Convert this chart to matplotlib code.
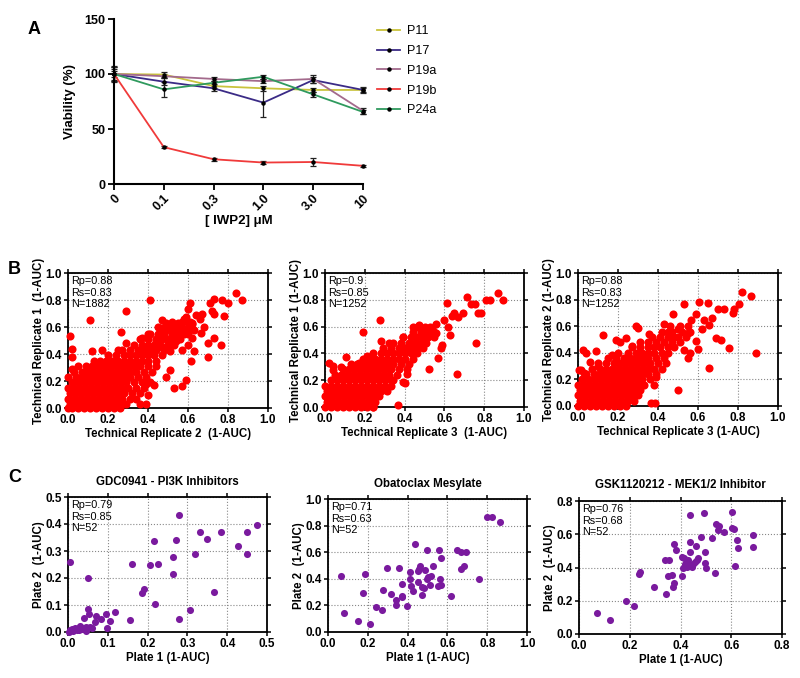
import matplotlib.pyplot as plt
import numpy as np

plt.rcParams['font.family'] = ['Liberation Sans', 'DejaVu Sans']

# ---- panel A: viability vs IWP2 dose ----
doses = ['0', '0.1', '0.3', '1.0', '3.0', '10']
lines_a = ['P11', 'P17', 'P19a', 'P19b', 'P24a']
p11 = [100, 99.5, 89, 87, 85.5, 85.5]
p17 = [100, 93, 87, 74, 94.5, 85.5]
p19a = [100, 98, 95.5, 93.5, 95.5, 66.5]
p19b = [100, 33.5, 22.5, 19.5, 20, 16.5]
p24a = [100, 86, 92, 97.5, 81.5, 65.5]
err_p11 = [6, 2, 2, 2, 2, 2]
err_p17 = [6, 3, 2, 13, 3, 3]
err_p19a = [7, 2, 2, 2, 4, 3]
err_p19b = [3, 1, 1.5, 1, 3.5, 1]
err_p24a = [5, 7, 2, 2, 2, 2]
colors_a = ['#c9c33c', '#3b2b86', '#a36a8c', '#f03a3a', '#2f9a5e']

# ---- panel B: technical replicates (dense core as rows y: xs, plus scattered points) ----
b1_rows = [
    (0.00, [0.00, 0.02, 0.05, 0.08, 0.11, 0.14, 0.17, 0.20, 0.23, 0.26]),
    (0.03, [0.01, 0.04, 0.07, 0.10, 0.13, 0.16, 0.19, 0.22, 0.25, 0.29, 0.36, 0.39]),
    (0.07, [0.00, 0.03, 0.06, 0.09, 0.12, 0.15, 0.18, 0.21, 0.24, 0.27, 0.31, 0.34]),
    (0.11, [0.01, 0.04, 0.07, 0.10, 0.13, 0.16, 0.19, 0.22, 0.25, 0.28, 0.32, 0.36]),
    (0.15, [0.00, 0.03, 0.06, 0.09, 0.12, 0.15, 0.18, 0.21, 0.24, 0.27, 0.30, 0.34, 0.38]),
    (0.19, [0.02, 0.05, 0.08, 0.11, 0.14, 0.17, 0.20, 0.23, 0.26, 0.29, 0.33, 0.37, 0.41]),
    (0.23, [0.00, 0.04, 0.07, 0.10, 0.13, 0.16, 0.19, 0.22, 0.25, 0.28, 0.31, 0.35, 0.39]),
    (0.27, [0.03, 0.07, 0.10, 0.13, 0.16, 0.19, 0.22, 0.25, 0.28, 0.31, 0.34, 0.38, 0.42]),
    (0.31, [0.05, 0.09, 0.12, 0.15, 0.18, 0.21, 0.24, 0.27, 0.30, 0.33, 0.36, 0.40, 0.44]),
    (0.35, [0.13, 0.16, 0.19, 0.22, 0.25, 0.28, 0.31, 0.34, 0.37, 0.40, 0.44]),
    (0.39, [0.20, 0.24, 0.28, 0.31, 0.34, 0.37, 0.40, 0.43, 0.47]),
    (0.43, [0.27, 0.31, 0.35, 0.38, 0.41, 0.44, 0.48]),
    (0.47, [0.33, 0.37, 0.40, 0.43, 0.46, 0.50, 0.53]),
    (0.51, [0.36, 0.40, 0.44, 0.47, 0.50, 0.53, 0.56]),
    (0.55, [0.41, 0.45, 0.48, 0.52, 0.55, 0.58]),
    (0.59, [0.47, 0.50, 0.54, 0.57, 0.60]),
    (0.63, [0.49, 0.55, 0.60, 0.62]),
]
b1_pts = [(0.84, 0.85), (0.87, 0.80), (0.77, 0.80), (0.80, 0.775), (0.73, 0.805), (0.71, 0.775),
          (0.61, 0.775), (0.41, 0.80), (0.29, 0.715), (0.11, 0.655), (0.01, 0.535), (0.72, 0.715),
          (0.73, 0.70), (0.78, 0.685), (0.67, 0.70), (0.64, 0.69), (0.59, 0.675), (0.60, 0.73),
          (0.57, 0.64), (0.47, 0.655), (0.665, 0.555), (0.70, 0.485), (0.73, 0.515), (0.765, 0.465),
          (0.70, 0.38), (0.62, 0.515), (0.63, 0.42), (0.57, 0.43), (0.615, 0.345), (0.59, 0.21),
          (0.57, 0.16), (0.53, 0.145), (0.49, 0.23), (0.51, 0.28), (0.43, 0.17), (0.39, 0.18),
          (0.40, 0.095), (0.26, 0.02), (0.265, 0.56), (0.29, 0.48), (0.02, 0.435), (0.02, 0.375),
          (0.02, 0.29), (0.17, 0.43), (0.12, 0.42), (0.25, 0.43), (0.52, 0.61), (0.55, 0.58),
          (0.62, 0.62), (0.66, 0.66), (0.68, 0.60), (0.45, 0.60), (0.40, 0.55), (0.37, 0.52),
          (0.48, 0.56), (0.60, 0.55), (0.54, 0.50), (0.60, 0.47), (0.46, 0.52), (0.49, 0.58),
          (0.52, 0.64), (0.58, 0.66), (0.50, 0.48), (0.56, 0.54), (0.63, 0.58), (0.61, 0.64),
          (0.53, 0.57), (0.44, 0.50), (0.47, 0.45), (0.51, 0.42)]

b2_rows = [
    (0.00, [0.00, 0.03, 0.06, 0.09, 0.12, 0.15, 0.18, 0.21, 0.24]),
    (0.04, [0.01, 0.04, 0.07, 0.10, 0.13, 0.16, 0.19, 0.22, 0.25]),
    (0.08, [0.00, 0.03, 0.06, 0.09, 0.12, 0.15, 0.18, 0.21, 0.24, 0.27]),
    (0.12, [0.01, 0.04, 0.07, 0.10, 0.13, 0.16, 0.19, 0.22, 0.25, 0.28, 0.31]),
    (0.16, [0.00, 0.03, 0.06, 0.09, 0.12, 0.15, 0.18, 0.21, 0.24, 0.27, 0.30, 0.33]),
    (0.20, [0.03, 0.06, 0.09, 0.12, 0.15, 0.18, 0.21, 0.24, 0.27, 0.30, 0.34]),
    (0.24, [0.05, 0.08, 0.11, 0.14, 0.17, 0.20, 0.23, 0.26, 0.29, 0.32, 0.36]),
    (0.28, [0.09, 0.12, 0.15, 0.18, 0.21, 0.24, 0.27, 0.30, 0.33, 0.37, 0.41]),
    (0.32, [0.13, 0.16, 0.19, 0.22, 0.25, 0.28, 0.31, 0.34, 0.38, 0.42]),
    (0.36, [0.19, 0.22, 0.25, 0.28, 0.31, 0.34, 0.37, 0.40, 0.44]),
    (0.40, [0.24, 0.28, 0.31, 0.34, 0.37, 0.40, 0.43, 0.46]),
    (0.44, [0.29, 0.33, 0.37, 0.40, 0.43, 0.46, 0.49]),
    (0.48, [0.34, 0.38, 0.42, 0.45, 0.48, 0.51]),
    (0.52, [0.39, 0.43, 0.46, 0.49, 0.52, 0.55]),
    (0.56, [0.44, 0.48, 0.52, 0.55]),
    (0.60, [0.46, 0.50, 0.53]),
]
b2_pts = [(0.87, 0.853), (0.895, 0.80), (0.827, 0.80), (0.81, 0.795), (0.785, 0.704), (0.77, 0.704),
          (0.713, 0.818), (0.735, 0.77), (0.752, 0.77), (0.613, 0.774), (0.693, 0.70), (0.65, 0.704),
          (0.67, 0.67), (0.76, 0.48), (0.665, 0.246), (0.523, 0.28), (0.568, 0.363), (0.585, 0.438),
          (0.275, 0.65), (0.19, 0.562), (0.107, 0.37), (0.04, 0.306), (0.04, 0.276), (0.02, 0.33),
          (0.21, 0.38), (0.283, 0.495), (0.32, 0.48), (0.59, 0.46), (0.627, 0.537), (0.56, 0.55),
          (0.56, 0.62), (0.518, 0.575), (0.49, 0.55), (0.54, 0.59), (0.62, 0.60), (0.50, 0.50),
          (0.44, 0.60), (0.47, 0.61), (0.39, 0.52), (0.24, 0.0), (0.22, 0.03), (0.367, 0.015),
          (0.39, 0.19), (0.40, 0.18), (0.33, 0.20), (0.41, 0.25), (0.17, 0.33), (0.08, 0.30),
          (0.60, 0.65), (0.64, 0.68)]

b3_rows = [
    (0.00, [0.00, 0.03, 0.06, 0.09, 0.12, 0.15, 0.18, 0.21, 0.24]),
    (0.04, [0.01, 0.04, 0.07, 0.10, 0.13, 0.16, 0.19, 0.22, 0.25, 0.28]),
    (0.08, [0.00, 0.03, 0.06, 0.09, 0.12, 0.15, 0.18, 0.21, 0.24, 0.27, 0.30]),
    (0.12, [0.01, 0.04, 0.07, 0.10, 0.13, 0.16, 0.19, 0.22, 0.25, 0.28, 0.31]),
    (0.16, [0.00, 0.03, 0.06, 0.09, 0.12, 0.15, 0.18, 0.21, 0.24, 0.27, 0.30, 0.33]),
    (0.20, [0.02, 0.05, 0.08, 0.11, 0.14, 0.17, 0.20, 0.23, 0.26, 0.29, 0.32, 0.36]),
    (0.24, [0.04, 0.08, 0.11, 0.14, 0.17, 0.20, 0.23, 0.26, 0.29, 0.32, 0.35, 0.39]),
    (0.28, [0.07, 0.11, 0.14, 0.17, 0.20, 0.23, 0.26, 0.29, 0.32, 0.35, 0.38, 0.42]),
    (0.32, [0.10, 0.14, 0.18, 0.21, 0.24, 0.27, 0.30, 0.33, 0.36, 0.40, 0.44]),
    (0.36, [0.15, 0.19, 0.23, 0.26, 0.29, 0.32, 0.35, 0.39, 0.43]),
    (0.40, [0.20, 0.25, 0.29, 0.32, 0.35, 0.38, 0.42, 0.45]),
    (0.44, [0.27, 0.31, 0.35, 0.38, 0.41, 0.45, 0.48]),
    (0.48, [0.31, 0.35, 0.39, 0.43, 0.47, 0.51]),
    (0.52, [0.37, 0.41, 0.45, 0.50, 0.54]),
    (0.56, [0.42, 0.47, 0.52, 0.56]),
    (0.60, [0.46, 0.51, 0.55]),
]
b3_pts = [(0.82, 0.86), (0.865, 0.827), (0.89, 0.40), (0.807, 0.764), (0.782, 0.727), (0.773, 0.70),
          (0.732, 0.727), (0.69, 0.51), (0.715, 0.50), (0.757, 0.434), (0.657, 0.288), (0.607, 0.784),
          (0.648, 0.772), (0.698, 0.73), (0.532, 0.764), (0.565, 0.647), (0.59, 0.69), (0.63, 0.647),
          (0.655, 0.61), (0.59, 0.49), (0.498, 0.12), (0.55, 0.36), (0.56, 0.40), (0.383, 0.025),
          (0.367, 0.025), (0.48, 0.52), (0.432, 0.62), (0.473, 0.69), (0.298, 0.584), (0.29, 0.60),
          (0.123, 0.534), (0.007, 0.27), (0.023, 0.42), (0.04, 0.40), (0.09, 0.41), (0.17, 0.385),
          (0.24, 0.51), (0.21, 0.48), (0.19, 0.50), (0.357, 0.545), (0.382, 0.158), (0.39, 0.22),
          (0.62, 0.58), (0.67, 0.66), (0.55, 0.55), (0.50, 0.58), (0.45, 0.56), (0.06, 0.33),
          (0.10, 0.30), (0.27, 0.45), (0.53, 0.42), (0.60, 0.43), (0.015, 0.27), (0.03, 0.245)]

b_stats = [['Rp=0.88', 'Rs=0.83', 'N=1882'], ['Rp=0.9', 'Rs=0.85', 'N=1252'], ['Rp=0.88', 'Rs=0.83', 'N=1252']]
b_xlabels = ['Technical Replicate 2  (1-AUC)', 'Technical Replicate 3  (1-AUC)', 'Technical Replicate 3 (1-AUC)']
b_ylabels = ['Technical Replicate 1  (1-AUC)', 'Technical Replicate 1 (1-AUC)', 'Technical Replicate 2 (1-AUC)']

# ---- panel C: plate-to-plate reproducibility ----
c1_x = [0.280, 0.474, 0.449, 0.384, 0.332, 0.349, 0.215, 0.272, 0.428, 0.449, 0.320, 0.265, 0.265,
        0.161, 0.207, 0.225, 0.367, 0.192, 0.186, 0.218, 0.307, 0.278, 0.156, 0.006, 0.049, 0.049,
        0.052, 0.039, 0.070, 0.067, 0.083, 0.096, 0.119, 0.106, 0.098, 0.060, 0.046, 0.031, 0.035,
        0.018, 0.006, 0.027, 0.002, 0.012, 0.022, 0.040, 0.030, 0.015, 0.055, 0.045, 0.010, 0.036]
c1_y = [0.433, 0.397, 0.370, 0.370, 0.372, 0.346, 0.337, 0.341, 0.320, 0.288, 0.288, 0.277, 0.213,
        0.252, 0.247, 0.251, 0.149, 0.158, 0.143, 0.103, 0.083, 0.047, 0.043, 0.260, 0.200, 0.084,
        0.066, 0.052, 0.058, 0.037, 0.047, 0.068, 0.074, 0.040, 0.016, 0.016, 0.019, 0.022, 0.012,
        0.015, 0.006, 0.006, 0.001, 0.005, 0.008, 0.010, 0.018, 0.012, 0.020, 0.005, 0.010, 0.016]
c2_x = [0.800, 0.823, 0.862, 0.437, 0.497, 0.558, 0.570, 0.648, 0.670, 0.692, 0.683, 0.670, 0.758,
        0.620, 0.063, 0.187, 0.295, 0.358, 0.462, 0.458, 0.450, 0.528, 0.487, 0.412, 0.412, 0.495,
        0.503, 0.520, 0.565, 0.453, 0.370, 0.415, 0.470, 0.427, 0.473, 0.515, 0.553, 0.567, 0.278,
        0.317, 0.175, 0.370, 0.370, 0.342, 0.342, 0.395, 0.242, 0.270, 0.082, 0.150, 0.212, 0.480]
c2_y = [0.862, 0.868, 0.830, 0.663, 0.613, 0.618, 0.560, 0.618, 0.598, 0.598, 0.498, 0.473, 0.400,
        0.273, 0.423, 0.435, 0.478, 0.478, 0.493, 0.475, 0.460, 0.498, 0.463, 0.448, 0.400, 0.398,
        0.413, 0.423, 0.398, 0.373, 0.363, 0.343, 0.335, 0.310, 0.280, 0.353, 0.348, 0.350, 0.318,
        0.288, 0.293, 0.273, 0.260, 0.243, 0.200, 0.193, 0.185, 0.168, 0.143, 0.080, 0.063, 0.330]
c3_x = [0.072, 0.121, 0.187, 0.217, 0.235, 0.239, 0.296, 0.340, 0.355, 0.350, 0.341, 0.372, 0.375,
        0.365, 0.374, 0.381, 0.437, 0.437, 0.437, 0.404, 0.404, 0.414, 0.460, 0.481, 0.494, 0.497,
        0.497, 0.499, 0.523, 0.536, 0.540, 0.551, 0.549, 0.572, 0.601, 0.602, 0.611, 0.615, 0.622,
        0.628, 0.684, 0.685, 0.431, 0.435, 0.424, 0.444, 0.451, 0.457, 0.418, 0.411, 0.464, 0.470]
c3_y = [0.124, 0.084, 0.200, 0.170, 0.360, 0.374, 0.284, 0.444, 0.444, 0.350, 0.240, 0.284, 0.304,
        0.354, 0.544, 0.508, 0.714, 0.554, 0.494, 0.348, 0.464, 0.460, 0.528, 0.584, 0.728, 0.492,
        0.430, 0.400, 0.580, 0.364, 0.664, 0.650, 0.624, 0.616, 0.734, 0.638, 0.630, 0.410, 0.568,
        0.520, 0.598, 0.524, 0.444, 0.424, 0.404, 0.404, 0.420, 0.434, 0.420, 0.394, 0.444, 0.460]
c_titles = ['GDC0941 - PI3K Inhibitors', 'Obatoclax Mesylate', 'GSK1120212 - MEK1/2 Inhibitor']
c_stats = [['Rp=0.79', 'Rs=0.85', 'N=52'], ['Rp=0.71', 'Rs=0.63', 'N=52'], ['Rp=0.76', 'Rs=0.68', 'N=52']]
c_lims = [0.5, 1.0, 0.8]
c_ticks = [[0.0, 0.1, 0.2, 0.3, 0.4, 0.5], [0.0, 0.2, 0.4, 0.6, 0.8, 1.0], [0.0, 0.2, 0.4, 0.6, 0.8]]

W, H = 800, 678
fig = plt.figure(figsize=(W / 100, H / 100), dpi=100)


def px_axes(l, t, r, b):
    return fig.add_axes([l / W, 1 - b / H, (r - l) / W, (b - t) / H])


def fmt_box(ax, lim, ticks):
    ax.set_xlim(0, lim)
    ax.set_ylim(0, lim)
    ax.set_xticks(ticks)
    ax.set_yticks(ticks)
    ax.set_xticklabels(['%.1f' % t for t in ticks], fontweight='bold', fontsize=8.5)
    ax.set_yticklabels(['%.1f' % t for t in ticks], fontweight='bold', fontsize=8.5)
    ax.grid(True, color='#888888', linestyle=':', linewidth=0.8)
    ax.set_axisbelow(True)
    for s in ax.spines.values():
        s.set_linewidth(1.3)
    ax.tick_params(direction='out', length=3, width=1.1, top=True, right=True, pad=1.5)


# panel A
axA = px_axes(114, 19, 363, 184)
xa = np.arange(len(doses))
handles = []
for name, vals, errs, col in zip(lines_a, [p11, p17, p19a, p19b, p24a],
                                 [err_p11, err_p17, err_p19a, err_p19b, err_p24a], colors_a):
    c = axA.errorbar(xa, vals, yerr=errs, color=col, lw=1.3, ecolor='#222222', elinewidth=0.9,
                     capsize=2, capthick=0.9, marker='o', ms=2.2, mfc='black', mec='black', label=name,
                     clip_on=False)
    handles.append(c[0])
axA.set_xlim(0, 5)
axA.set_ylim(0, 150)
axA.set_yticks([0, 50, 100, 150])
axA.set_yticklabels(['0', '50', '100', '150'], fontweight='bold', fontsize=9)
axA.set_xticks(xa)
axA.set_xticklabels(doses, fontweight='bold', fontsize=9, rotation=45, ha='right', rotation_mode='anchor')
axA.spines['top'].set_visible(False)
axA.spines['right'].set_visible(False)
axA.spines['left'].set_linewidth(1.5)
axA.spines['bottom'].set_linewidth(1.5)
axA.tick_params(direction='out', length=4, width=1.3, pad=2)
axA.set_ylabel('Viability (%)', fontweight='bold', fontsize=9.5, labelpad=6)
axA.set_xlabel('[ IWP2] \u03bcM', fontweight='bold', fontsize=9.5, labelpad=1)
axA.legend(handles=handles, labels=lines_a, loc='upper left', bbox_to_anchor=(1.01, 1.03),
           frameon=False, fontsize=9, handlelength=1.9, labelspacing=0.62, handletextpad=0.5)

fig.text(28 / W, 1 - 30 / H, 'A', fontsize=13, fontweight='bold', va='center', ha='left')
fig.text(8 / W, 1 - 270 / H, 'B', fontsize=13, fontweight='bold', va='center', ha='left')
fig.text(8 / W, 1 - 478 / H, 'C', fontsize=13, fontweight='bold', va='center', ha='left')

# panel B
b_boxes = [(68, 273, 268, 408), (325, 273, 524, 407), (578, 273, 778, 406)]
for box, rows, pts, st, xl, yl in zip(b_boxes, [b1_rows, b2_rows, b3_rows], [b1_pts, b2_pts, b3_pts],
                                       b_stats, b_xlabels, b_ylabels):
    ax = px_axes(*box)
    bx = [x for y, xs in rows for x in xs] + [p[0] for p in pts]
    by = [y for y, xs in rows for x in xs] + [p[1] for p in pts]
    ax.scatter(bx, by, s=34, color='#ff0000', linewidths=0, clip_on=False, zorder=3)
    fmt_box(ax, 1.0, [0.0, 0.2, 0.4, 0.6, 0.8, 1.0])
    ax.text(0.015, 0.975, '\n'.join(st), transform=ax.transAxes, va='top', ha='left',
            fontsize=7.8, linespacing=1.15, zorder=4)
    ax.set_xlabel(xl, fontweight='bold', fontsize=8.3, labelpad=1)
    ax.set_ylabel(yl, fontweight='bold', fontsize=8.3, labelpad=0.5)

# panel C
c_boxes = [(68, 497, 267, 632), (328, 499, 527, 632), (579, 501, 782, 634)]
for box, cx, cy, ttl, st, lim, tks in zip(c_boxes, [c1_x, c2_x, c3_x], [c1_y, c2_y, c3_y],
                                         c_titles, c_stats, c_lims, c_ticks):
    ax = px_axes(*box)
    ax.scatter(cx, cy, s=26, color='#7a1a9e', linewidths=0, clip_on=False, zorder=3)
    fmt_box(ax, lim, tks)
    ax.text(0.015, 0.975, '\n'.join(st), transform=ax.transAxes, va='top', ha='left',
            fontsize=7.8, linespacing=1.15, zorder=4)
    ax.set_title(ttl, fontweight='bold', fontsize=8.3, pad=9)
    ax.set_xlabel('Plate 1 (1-AUC)', fontweight='bold', fontsize=8.3, labelpad=1)
    ax.set_ylabel('Plate 2  (1-AUC)', fontweight='bold', fontsize=8.3, labelpad=0.5)

fig.savefig('out.png', dpi=100)
